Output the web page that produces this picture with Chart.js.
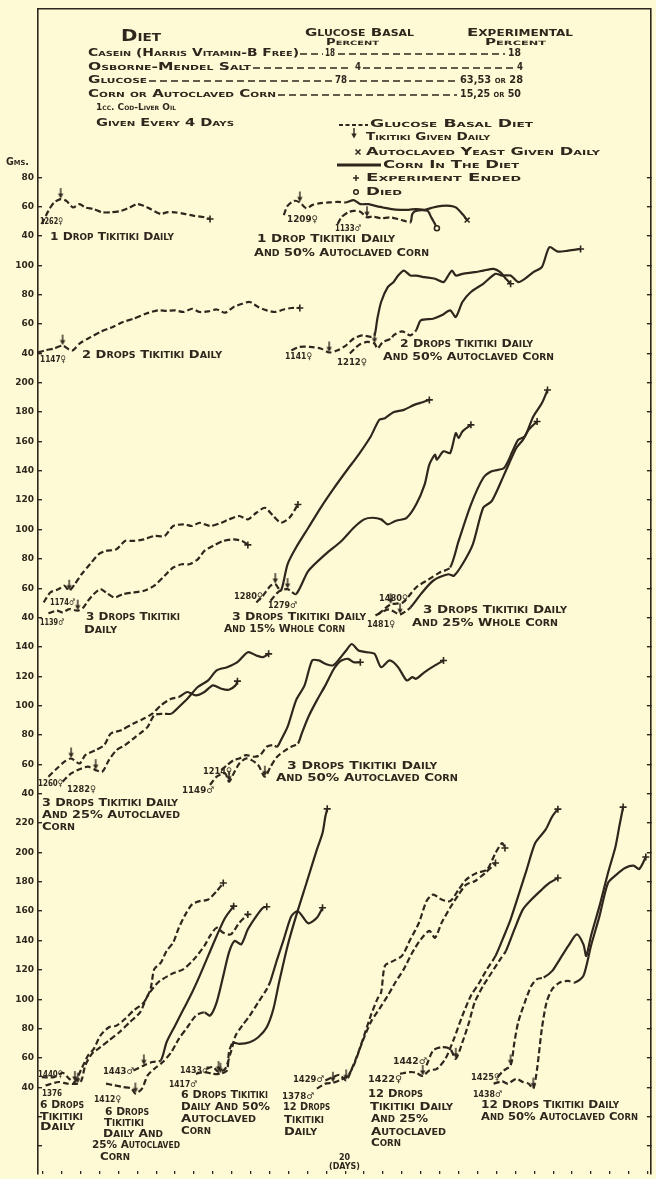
<!DOCTYPE html>
<html>
<head>
<meta charset="utf-8">
<title>Growth of rats on glucose basal diet with tikitiki and corn</title>
<script src="https://cdn.jsdelivr.net/npm/chart.js@4.4.1/dist/chart.umd.min.js"></script>
<style>
  html, body { margin: 0; padding: 0; background: #fcfbd6; }
  canvas { display: block; }
</style>
</head>
<body>
<canvas id="growth" width="656" height="1179" style="width:656px;height:1179px"></canvas>
<script>
const INK = '#30261d';
const PAPER = '#fcfbd6';
const FACE = '"DejaVu Sans", "Noto Sans", sans-serif';

// Weight tick labels of each panel, top panel first (grams)
const panelTicks = [
  [80, 60, 40],
  [100, 80, 60, 40],
  [200, 180, 160, 140, 120, 100, 80, 60, 40],
  [140, 120, 100, 80, 60, 40],
  [220, 200, 180, 160, 140, 120, 100, 80, 60, 40]
];
const tickStep = 20;
const blankTicksBelow = 2;
const weightSpan = [-599.0, 194.6];   // shared vertical extent, in panel-1 grams
const daySpan = [-0.5, 64.34];
const dayTickStep = 2;

// Body weight records: [day, grams]
const rat1262 = [[-0.1,48.1],[0.6,57.1],[1.2,62.8],[1.9,65.1],[2.5,63.9],[3.2,59.4],[3.9,61.7],[4.5,59.4],[5.4,58.3],[6.3,56.1],[7.2,56.1],[8.3,57.1],[9.2,59.4],[10.0,61.7],[10.7,60.5],[11.4,58.3],[12.5,54.9],[13.1,56.1],[14.0,56.1],[15.1,54.9],[16.0,53.7],[17.1,52.7],[17.7,51.5]];
const rat1209 = [[25.5,54.2],[25.9,60.5],[26.6,63.9],[27.2,62.8],[27.9,58.8],[28.5,61.0],[29.4,62.4],[30.3,62.8],[31.2,63.2],[32.1,62.8],[32.9,64.4],[33.6,61.7],[34.5,61.7],[35.3,60.3],[36.0,59.4],[36.9,58.3],[37.8,57.8],[38.7,57.8],[39.5,58.3],[40.4,57.8],[41.3,59.4],[42.2,60.5],[43.1,60.5],[43.7,59.4],[44.4,54.9],[44.9,50.8]];
const rat1133 = [[31.2,48.1],[31.6,52.7],[32.3,56.1],[32.9,57.1],[33.6,56.5],[34.3,52.7],[34.9,53.3],[35.8,52.0],[36.7,52.7],[37.6,51.5],[38.2,50.4],[38.9,49.3],[39.1,54.9],[39.5,57.1],[40.7,57.1],[41.1,52.7],[41.5,48.1],[41.7,45.2]];

const rat1147 = [[-0.5,40.6],[0.3,42.1],[1.2,43.3],[2.1,45.3],[2.8,42.6],[3.2,42.1],[3.9,46.7],[4.8,50.1],[6.1,54.6],[7.4,58.0],[8.5,61.4],[9.6,63.6],[10.9,67.0],[12.2,69.3],[13.1,68.9],[14.0,69.3],[14.9,68.2],[15.8,70.4],[16.6,68.2],[17.5,68.6],[18.4,69.9],[19.3,67.7],[20.2,71.6],[21.1,73.8],[21.9,75.0],[22.8,71.6],[23.7,69.3],[24.6,68.2],[25.5,69.9],[26.3,70.9],[27.2,70.9]];
const rat1141 = [[26.3,42.1],[27.2,44.4],[28.3,44.4],[29.4,43.3],[30.3,40.6],[31.2,42.1],[32.1,45.5],[32.9,50.1],[33.8,52.3],[34.7,51.2],[35.1,52.1],[35.4,63.6],[35.8,75.0],[36.5,85.1],[37.1,88.5],[37.6,93.0],[38.2,96.4],[38.9,93.0],[39.5,93.0],[40.4,91.9],[41.5,90.8],[42.4,88.5],[42.9,93.0],[43.3,96.4],[43.7,93.0],[44.4,94.2],[45.7,95.3],[46.6,96.4],[47.7,97.6],[48.4,95.3],[49.0,90.8],[49.5,87.4]];
const rat1212 = [[32.5,39.9],[33.4,45.5],[34.3,47.8],[35.1,46.7],[35.4,43.3],[36.0,47.8],[36.9,50.1],[37.1,52.3],[38.0,55.0],[38.9,52.3],[39.5,55.7],[40.0,62.5],[41.3,63.6],[42.2,65.9],[43.1,69.3],[43.7,64.8],[44.4,75.0],[45.3,81.8],[46.6,87.4],[47.9,94.2],[48.6,93.0],[49.5,93.0],[50.3,88.5],[51.0,90.8],[51.9,95.3],[52.8,98.7],[53.6,112.3],[54.5,109.3],[55.6,110.0],[56.9,111.1]];

const rat1174 = [[0.1,50.3],[0.8,57.1],[1.7,59.4],[2.3,61.7],[2.8,58.3],[3.4,62.8],[4.1,69.5],[5.0,76.3],[5.9,83.1],[6.7,85.4],[7.8,86.5],[8.7,92.2],[9.6,92.2],[10.7,93.3],[11.8,95.6],[12.9,95.6],[13.8,102.4],[14.9,103.5],[15.8,102.4],[16.6,104.6],[17.7,102.4],[18.9,104.6],[19.7,106.9],[20.8,109.2],[21.7,106.9],[22.6,111.4],[23.5,114.8],[24.4,109.2],[25.2,104.6],[26.1,108.0],[27.0,117.0]];
const rat1139 = [[0.6,42.9],[1.5,44.7],[2.1,43.6],[2.8,45.8],[3.7,44.7],[4.3,46.9],[4.8,51.5],[5.4,56.0],[6.1,59.4],[6.7,57.1],[7.6,53.7],[8.5,56.0],[9.6,57.1],[10.7,58.3],[11.8,61.7],[12.9,68.5],[13.8,74.1],[14.7,76.3],[15.5,76.3],[16.4,79.7],[17.1,85.4],[18.0,88.8],[19.1,92.2],[20.2,93.3],[21.1,92.2],[21.7,89.5]];
const rat1280 = [[22.6,50.3],[23.3,54.9],[24.1,61.7],[24.6,62.8],[25.2,58.3],[25.9,76.3],[26.8,87.7],[28.1,101.2],[29.4,114.8],[30.7,127.2],[32.1,139.7],[33.4,150.9],[34.7,163.4],[35.6,174.7],[36.2,175.8],[37.1,179.9],[38.2,181.5],[39.3,184.9],[40.2,186.7],[40.9,188.3]];
const rat1279 = [[24.1,51.5],[25.0,57.8],[25.9,59.4],[26.8,56.0],[28.1,71.8],[29.9,83.1],[31.6,92.2],[32.9,101.2],[34.0,106.9],[34.9,108.0],[35.8,106.9],[36.5,103.5],[37.3,105.8],[38.5,108.0],[39.5,117.0],[40.4,130.6],[40.9,144.2],[41.5,150.9],[41.7,147.6],[42.4,153.3],[43.1,152.1],[43.7,165.7],[44.0,162.3],[44.4,166.8],[45.3,171.3]];
const rat1480 = [[35.5,42.2],[36.8,49.0],[38.1,50.3],[39.5,60.5],[40.8,65.9],[42.0,70.7],[43.1,74.1],[44.0,92.2],[45.3,117.0],[46.6,135.1],[47.5,139.7],[48.8,141.9],[49.7,153.3],[50.3,161.1],[51.0,163.4],[51.9,177.0],[52.8,186.0],[53.4,195.0]];
const rat1481 = [[35.2,41.5],[36.6,45.6],[37.8,42.2],[38.9,46.9],[40.0,56.0],[41.3,65.1],[42.9,69.5],[43.5,68.5],[44.4,76.3],[45.5,89.9],[46.6,114.8],[47.5,119.3],[48.8,137.2],[50.1,155.5],[50.8,161.1],[51.4,167.9],[52.3,173.6]];

const rat1260 = [[0.6,51.6],[1.5,57.2],[2.3,61.8],[3.0,64.0],[3.9,60.6],[4.5,66.3],[5.6,69.7],[6.5,73.1],[7.2,81.0],[8.3,83.3],[9.6,87.8],[10.7,91.2],[11.6,94.5],[12.5,100.2],[13.6,104.7],[14.4,105.9],[15.3,109.3],[16.2,107.0],[17.1,109.3],[18.0,113.8],[18.9,111.5],[19.7,110.8],[20.4,113.8],[20.6,116.7]];
const rat1282 = [[2.1,48.2],[3.0,53.8],[4.1,57.2],[4.8,58.4],[5.6,56.1],[6.3,55.0],[7.0,62.9],[7.8,69.7],[8.7,73.1],[9.6,77.6],[10.5,82.1],[11.1,85.5],[11.8,93.5],[12.7,94.5],[13.6,94.5],[14.4,99.1],[15.3,104.7],[16.4,112.7],[17.5,117.2],[18.4,124.0],[19.5,126.2],[20.6,129.6],[21.7,136.4],[22.6,134.2],[23.3,133.0],[23.9,135.3]];
const rat1214 = [[18.9,56.1],[19.5,59.5],[20.2,62.9],[20.8,64.0],[21.5,66.3],[22.4,65.2],[23.0,66.3],[23.7,72.0],[24.4,73.1],[24.8,72.0],[25.2,76.5],[25.9,85.5],[26.8,103.6],[27.7,113.8],[28.5,130.8],[29.2,130.8],[29.9,128.5],[30.7,127.4],[31.4,131.9],[32.1,137.6],[32.7,142.0],[33.4,137.6],[34.3,136.4],[35.1,135.3],[35.8,126.2],[36.7,130.8],[37.6,126.2],[38.5,117.2],[39.1,119.4],[39.5,118.3],[40.4,122.8],[41.5,127.4],[42.4,130.8]];
const rat1149 = [[17.7,46.0],[18.4,51.6],[19.3,53.8],[19.7,48.2],[20.2,53.8],[20.8,60.6],[21.5,64.0],[22.1,62.9],[22.8,59.5],[23.5,51.6],[24.1,58.4],[24.8,65.2],[25.7,69.7],[26.3,72.0],[27.0,74.2],[27.4,81.0],[28.1,92.3],[29.0,103.6],[29.9,113.8],[30.7,124.0],[31.2,128.5],[31.6,130.8],[32.3,131.9],[32.9,129.6],[33.6,129.6]];

const rat1440 = [[-0.1,46.9],[1.2,46.9],[2.1,49.9],[2.8,45.8],[3.4,43.6],[4.1,52.6],[4.8,61.7],[5.4,66.2],[6.1,75.2],[7.0,80.9],[7.8,82.0],[8.7,86.5],[9.6,92.2],[10.7,97.9],[11.4,106.9],[11.8,120.5],[12.5,125.0],[13.1,132.9],[13.8,138.6],[14.4,148.7],[15.1,157.8],[15.8,164.6],[16.6,166.8],[17.5,167.9],[18.4,173.6],[19.1,179.2]];
const rat1376 = [[0.3,41.3],[1.7,43.6],[2.6,42.5],[3.7,42.5],[4.1,44.7],[4.5,54.9],[5.2,62.8],[6.1,67.3],[7.0,71.9],[8.1,77.5],[9.2,84.3],[10.3,91.1],[11.1,102.4],[12.2,111.4],[13.6,117.1],[14.9,120.5],[16.0,127.2],[17.1,136.3],[17.7,143.1],[18.4,148.7],[19.1,145.3],[19.9,144.2],[20.8,152.1],[21.7,157.8]];
const rat1443 = [[9.6,51.5],[10.7,54.9],[11.6,57.2],[12.5,58.3],[13.1,70.7],[14.0,82.0],[14.9,93.3],[15.8,104.6],[16.6,115.9],[17.5,129.5],[18.4,143.1],[19.3,155.5],[20.2,163.4]];
const rat1412 = [[6.7,42.5],[7.6,41.3],[8.5,40.2],[9.4,39.1],[9.8,35.7],[10.5,39.1],[11.1,48.1],[11.8,52.6],[12.7,57.2],[13.6,63.9],[14.4,73.0],[15.3,80.9],[16.2,88.8],[17.1,91.1],[17.7,88.8],[18.4,97.9],[19.1,115.9],[19.7,131.8],[20.3,139.7],[21.0,137.4],[21.7,147.6],[22.6,156.6],[23.3,162.3],[23.7,163.0]];
const rat1433 = [[17.3,52.6],[18.0,53.8],[18.6,50.4],[19.3,52.6],[19.9,63.9],[20.4,75.2],[21.1,82.0],[21.9,88.8],[22.8,97.9],[23.7,106.9],[24.1,112.5],[24.8,127.2],[25.5,140.8],[26.3,156.6],[27.0,160.0],[28.1,151.7],[29.0,155.5],[29.6,162.3]];
const rat1417 = [[16.2,49.2],[17.1,50.4],[18.0,49.2],[18.8,49.2],[19.5,51.5],[19.7,63.9],[20.1,70.3],[20.8,69.6],[21.9,70.7],[22.8,74.1],[23.7,80.9],[24.4,93.3],[25.0,111.4],[25.9,136.3],[26.8,156.6],[27.9,179.2],[29.0,201.9],[29.6,213.2],[29.9,224.5],[30.1,229.7]];
const rat1429 = [[29.9,44.7],[30.7,47.0],[31.4,48.5],[32.1,44.7],[32.7,52.6],[33.4,63.9],[34.0,75.2],[34.7,88.8],[35.4,100.1],[35.8,104.6],[36.2,122.7],[37.1,126.1],[38.0,129.5],[38.9,140.8],[39.8,152.1],[40.6,166.8],[41.3,171.3],[42.2,167.9],[43.1,166.8],[44.0,174.7],[44.8,181.5],[45.9,186.0],[47.0,188.3],[47.9,199.6],[48.6,206.4],[48.9,203.0]];
const rat1378 = [[29.0,39.1],[29.9,42.5],[30.7,43.1],[31.4,44.7],[32.3,48.1],[32.9,54.9],[33.8,70.7],[34.7,84.3],[35.6,93.3],[36.5,102.4],[37.3,111.4],[38.2,120.5],[39.1,131.8],[40.0,140.8],[40.9,146.5],[41.5,141.9],[42.2,152.1],[43.1,162.3],[44.0,171.3],[44.8,178.1],[45.7,180.4],[46.8,186.0],[47.9,192.8]];
const rat1422 = [[37.8,49.2],[38.9,50.4],[39.5,49.9],[40.2,47.7],[40.9,51.5],[41.7,52.6],[42.6,59.4],[43.5,73.0],[44.4,88.8],[45.3,102.4],[46.2,111.4],[47.0,120.5],[47.9,129.5],[48.8,143.1],[49.5,154.4],[50.3,170.2],[51.2,188.3],[52.1,206.4],[53.2,215.5],[53.9,224.5],[54.5,229.5]];
const rat1442 = [[40.6,54.9],[41.3,65.1],[42.2,67.3],[43.1,66.2],[43.7,59.4],[44.4,70.7],[45.1,84.3],[45.7,97.9],[46.6,109.2],[47.5,118.2],[48.4,127.2],[49.0,132.9],[49.9,147.6],[50.8,161.2],[51.7,167.9],[52.8,174.7],[53.6,179.2],[54.5,182.6]];
const rat1425 = [[48.1,47.0],[48.8,51.5],[49.5,54.9],[49.9,70.7],[50.3,84.3],[51.0,97.9],[51.7,109.2],[52.3,113.7],[53.0,114.8],[53.9,119.3],[54.7,127.2],[55.6,136.3],[56.5,144.2],[57.2,137.4],[57.5,129.5],[58.0,143.1],[58.9,163.4],[59.8,186.0],[60.6,204.1],[61.0,217.8],[61.4,230.9]];
const rat1438 = [[47.7,42.5],[48.6,44.0],[49.2,42.5],[50.1,45.8],[50.8,43.6],[51.4,42.5],[51.9,39.1],[52.3,52.6],[52.8,79.8],[53.3,97.9],[53.9,106.9],[54.7,111.4],[55.6,112.5],[56.3,111.4],[57.2,115.9],[58.0,136.3],[58.9,156.6],[59.8,179.2],[60.7,184.9],[61.6,189.4],[62.5,191.0],[63.1,188.7],[63.8,196.9]];

// panel (0 = top), index where corn enters the diet, tikitiki arrows, how the record ends
const rats = [
  { pts: rat1262, panel: 0, corn: null, arrows: [3], end: '+' },
  { pts: rat1209, panel: 0, corn: 9,    arrows: [3], end: 'x' },
  { pts: rat1133, panel: 0, corn: 11,   arrows: [5], end: 'o' },
  { pts: rat1147, panel: 1, corn: null, arrows: [3], end: '+' },
  { pts: rat1141, panel: 1, corn: 10,   arrows: [4], end: '+' },
  { pts: rat1212, panel: 1, corn: 10,   arrows: [3], end: '+' },
  { pts: rat1174, panel: 2, corn: null, arrows: [4], end: '+' },
  { pts: rat1139, panel: 2, corn: null, arrows: [4], end: '+' },
  { pts: rat1280, panel: 2, corn: 4,    arrows: [3], end: '+' },
  { pts: rat1279, panel: 2, corn: 3,    arrows: [2], end: '+' },
  { pts: rat1480, panel: 2, corn: 6,    arrows: [1], end: '+' },
  { pts: rat1481, panel: 2, corn: 3,    arrows: [2], end: '+' },
  { pts: rat1260, panel: 3, corn: 15,   arrows: [3], end: '+' },
  { pts: rat1282, panel: 3, corn: 14,   arrows: [4], end: '+' },
  { pts: rat1214, panel: 3, corn: 9,    arrows: [], end: '+' },
  { pts: rat1149, panel: 3, corn: 14,   arrows: [3, 9], end: '+' },
  { pts: rat1440, panel: 4, corn: null, arrows: [4], end: '+' },
  { pts: rat1376, panel: 4, corn: null, arrows: [3], end: '+' },
  { pts: rat1443, panel: 4, corn: 3,    arrows: [1], end: '+' },
  { pts: rat1412, panel: 4, corn: 13,   arrows: [4], end: '+' },
  { pts: rat1433, panel: 4, corn: 10,   arrows: [2], end: '+' },
  { pts: rat1417, panel: 4, corn: 6,    arrows: [3], end: '+' },
  { pts: rat1429, panel: 4, corn: null, arrows: [3], end: '+' },
  { pts: rat1378, panel: 4, corn: null, arrows: [2], end: '+' },
  { pts: rat1422, panel: 4, corn: 12,   arrows: [3], end: '+' },
  { pts: rat1442, panel: 4, corn: 11,   arrows: [4], end: '+' },
  { pts: rat1425, panel: 4, corn: 8,    arrows: [2], end: '+' },
  { pts: rat1438, panel: 4, corn: 13,   arrows: [6], end: '+' }
];

// Lettering: [text, left x, middle y, width, size]
const notes = [
  ['Diet', 121, 37, 40, 16],
  ['Glucose Basal', 305, 33, 109, 11],
  ['Percent', 326, 43, 53, 8],
  ['Experimental', 467, 33, 106, 11],
  ['Percent', 485, 43, 61, 8],
  ['Casein (Harris Vitamin-B Free)', 88, 53, 211, 10],
  ['18', 325, 53, 10, 10],
  ['18', 508, 53, 13, 10],
  ['Osborne-Mendel Salt', 88, 67, 163, 10],
  ['4', 355, 67, 6, 10],
  ['4', 517, 67, 6, 10],
  ['Glucose', 88, 80, 59, 10],
  ['78', 335, 80, 12, 10],
  ['63,53 or 28', 460, 80, 63, 10],
  ['Corn or Autoclaved Corn', 88, 94, 188, 10],
  ['15,25 or 50', 460, 94, 61, 10],
  ['1cc. Cod-Liver Oil', 96, 108, 80, 9],
  ['Given Every 4 Days', 96, 123, 138, 10],
  ['Glucose Basal Diet', 370, 124, 163, 10],
  ['Tikitiki Given Daily', 366, 137, 124, 10],
  ['Autoclaved Yeast Given Daily', 366, 152, 234, 10],
  ['Corn In The Diet', 383, 165, 136, 10],
  ['Experiment Ended', 366, 178, 155, 10],
  ['Died', 366, 192, 36, 10],
  ['Gms.', 6, 162, 23, 10],

  ['1262♀', 40, 222, 23, 9],
  ['1 Drop Tikitiki Daily', 50, 237, 124, 11],
  ['1209♀', 287, 220, 31, 9],
  ['1133♂', 335, 229, 26, 9],
  ['1 Drop Tikitiki Daily', 257, 239, 138, 11],
  ['And 50% Autoclaved Corn', 254, 253, 175, 11],

  ['1147♀', 40, 360, 26, 9],
  ['2 Drops Tikitiki Daily', 82, 355, 140, 11],
  ['1141♀', 285, 357, 27, 9],
  ['1212♀', 337, 363, 30, 9],
  ['2 Drops Tikitiki Daily', 400, 344, 133, 11],
  ['And 50% Autoclaved Corn', 383, 357, 171, 11],

  ['1174♂', 50, 603, 25, 9],
  ['1139♂', 40, 623, 24, 9],
  ['3 Drops Tikitiki', 86, 617, 94, 11],
  ['Daily', 84, 630, 33, 11],
  ['1280♀', 234, 597, 29, 9],
  ['1279♂', 268, 606, 29, 9],
  ['3 Drops Tikitiki Daily', 232, 617, 134, 11],
  ['And 15% Whole Corn', 224, 629, 121, 11],
  ['1480♀', 379, 599, 29, 9],
  ['1481♀', 367, 625, 28, 9],
  ['3 Drops Tikitiki Daily', 423, 610, 144, 11],
  ['And 25% Whole Corn', 412, 623, 146, 11],

  ['1260♀', 38, 784, 25, 9],
  ['1282♀', 67, 790, 29, 9],
  ['3 Drops Tikitiki Daily', 42, 803, 136, 11],
  ['And 25% Autoclaved', 42, 815, 138, 11],
  ['Corn', 42, 827, 33, 11],
  ['1214♀', 203, 772, 29, 9],
  ['1149♂', 182, 791, 32, 9],
  ['3 Drops Tikitiki Daily', 287, 766, 150, 11],
  ['And 50% Autoclaved Corn', 276, 778, 182, 11],

  ['1440♀', 38, 1075, 25, 9],
  ['1376', 42, 1094, 20, 9],
  ['6 Drops', 40, 1105, 44, 11],
  ['Tikitiki', 40, 1117, 43, 11],
  ['Daily', 40, 1127, 35, 11],
  ['1443♂', 103, 1072, 31, 9],
  ['1412♀', 94, 1100, 27, 9],
  ['6 Drops', 105, 1112, 44, 11],
  ['Tikitiki', 104, 1123, 40, 11],
  ['Daily And', 103, 1134, 60, 11],
  ['25% Autoclaved', 92, 1145, 88, 11],
  ['Corn', 100, 1157, 30, 11],
  ['1433♂', 180, 1071, 29, 9],
  ['1417♂', 169, 1085, 28, 9],
  ['6 Drops Tikitiki', 181, 1095, 87, 11],
  ['Daily And 50%', 181, 1107, 89, 11],
  ['Autoclaved', 181, 1119, 75, 11],
  ['Corn', 181, 1131, 30, 11],
  ['1429♂', 293, 1080, 31, 9],
  ['1378♂', 282, 1097, 32, 9],
  ['12 Drops', 283, 1107, 47, 11],
  ['Tikitiki', 284, 1120, 40, 11],
  ['Daily', 284, 1132, 33, 11],
  ['1422♀', 368, 1080, 34, 9],
  ['1442♂', 393, 1062, 34, 9],
  ['12 Drops', 368, 1094, 55, 11],
  ['Tikitiki Daily', 370, 1107, 83, 11],
  ['And 25%', 371, 1119, 57, 11],
  ['Autoclaved', 371, 1132, 75, 11],
  ['Corn', 371, 1143, 30, 11],
  ['1425♀', 471, 1078, 29, 9],
  ['1438♂', 473, 1095, 29, 9],
  ['12 Drops Tikitiki Daily', 481, 1105, 138, 11],
  ['And 50% Autoclaved Corn', 481, 1117, 157, 11]
];

// dash leaders in the diet table: [from x, to x, y]
const leaders = [
  [300, 323, 54], [338, 505, 54],
  [253, 352, 68], [363, 514, 68],
  [149, 332, 81], [349, 457, 81],
  [278, 457, 95]
];

// ---- scale bookkeeping: each panel is a shifted copy of the shared vertical extent
const panelOffsets = [];
(function () {
  let next = panelTicks[0][0];
  panelTicks.forEach(t => { panelOffsets.push(t[0] - next); next -= tickStep * t.length; });
})();
const tickText = new Map();
panelTicks.forEach((t, i) => t.forEach(v => tickText.set(v - panelOffsets[i], String(v))));
const sharedTicks = [];
{
  const lastPanel = panelTicks.length - 1;
  const bottom = panelTicks[lastPanel][panelTicks[lastPanel].length - 1] - panelOffsets[lastPanel] - tickStep * blankTicksBelow;
  for (let v = bottom; v <= panelTicks[0][0]; v += tickStep) sharedTicks.push({ value: v });
}
const dayTicks = [];
for (let d = 0; d <= daySpan[1]; d += dayTickStep) dayTicks.push({ value: d });

// tikitiki arrow, tip at the image centre
const arrowMark = (function () {
  const c = document.createElement('canvas');
  c.width = 8; c.height = 24;
  const g = c.getContext('2d');
  g.strokeStyle = INK; g.fillStyle = INK; g.lineWidth = 1.4;
  g.beginPath(); g.moveTo(4, 1); g.lineTo(4, 8); g.stroke();
  g.beginPath(); g.moveTo(1.3, 6.5); g.lineTo(6.7, 6.5); g.lineTo(4, 11.5); g.closePath(); g.fill();
  return c;
})();
const endMarks = { '+': ['cross', 3.5], 'x': ['crossRot', 3.5], 'o': ['circle', 2.5] };

const datasets = rats.map(r => {
  const last = r.pts.length - 1;
  const isArrow = i => i !== last && r.arrows.includes(i);
  return {
    data: r.pts.map(([x, y]) => ({ x, y })),
    xAxisID: 'x',
    yAxisID: 'p' + (r.panel + 1),
    borderColor: INK,
    borderWidth: 2.2,
    tension: 0.25,
    fill: false,
    segment: {
      borderDash: c => (r.corn === null || c.p0DataIndex < r.corn) ? [6, 3] : []
    },
    pointStyle: c => isArrow(c.dataIndex) ? arrowMark : endMarks[r.end][0],
    pointRadius: c => isArrow(c.dataIndex) ? 4 : (c.dataIndex === last ? endMarks[r.end][1] : 0),
    pointBorderColor: INK,
    pointBackgroundColor: PAPER,
    pointBorderWidth: 1.6,
    pointHoverRadius: 0
  };
});

const panelScales = {};
panelOffsets.forEach((off, i) => {
  panelScales['p' + (i + 1)] = {
    type: 'linear', display: false,
    min: weightSpan[0] + off, max: weightSpan[1] + off
  };
});

function letter(ctx, text, x, y, w, size) {
  ctx.font = 'small-caps bold ' + size + 'px ' + FACE;
  const m = ctx.measureText(text).width;
  ctx.save();
  ctx.translate(x, y);
  ctx.scale(w / m, 1);
  ctx.fillText(text, 0, 0);
  ctx.restore();
}

const lettering = {
  id: 'lettering',
  afterDraw(chart) {
    const ctx = chart.ctx;
    ctx.save();
    ctx.fillStyle = INK;
    ctx.strokeStyle = INK;
    ctx.textBaseline = 'middle';
    ctx.textAlign = 'left';
    notes.forEach(n => letter(ctx, ...n));

    ctx.lineWidth = 1.5;
    ctx.setLineDash([7, 4]);
    leaders.forEach(([a, b, y]) => { ctx.beginPath(); ctx.moveTo(a, y); ctx.lineTo(b, y); ctx.stroke(); });

    // key samples
    ctx.lineWidth = 2.2;
    ctx.setLineDash([4, 2.5]);
    ctx.beginPath(); ctx.moveTo(339, 125); ctx.lineTo(368, 125); ctx.stroke();
    ctx.setLineDash([]);
    ctx.lineWidth = 2.8;
    ctx.beginPath(); ctx.moveTo(337, 165); ctx.lineTo(381, 165); ctx.stroke();
    ctx.drawImage(arrowMark, 350, 139 - 12);
    ctx.lineWidth = 1.5;
    ctx.beginPath();
    ctx.moveTo(355.5, 149.5); ctx.lineTo(360.5, 154.5);
    ctx.moveTo(360.5, 149.5); ctx.lineTo(355.5, 154.5);
    ctx.moveTo(356, 175); ctx.lineTo(356, 181);
    ctx.moveTo(353, 178); ctx.lineTo(359, 178);
    ctx.stroke();
    ctx.beginPath(); ctx.arc(356, 192, 2.3, 0, Math.PI * 2); ctx.stroke();
    ctx.restore();
  }
};

new Chart(document.getElementById('growth'), {
  type: 'line',
  data: { datasets },
  options: {
    responsive: false,
    animation: false,
    devicePixelRatio: 1,
    events: [],
    layout: { padding: { top: 9, left: 0, right: 0, bottom: 0 } },
    plugins: { legend: { display: false }, tooltip: { enabled: false } },
    scales: {
      x: {
        type: 'linear', position: 'bottom', min: daySpan[0], max: daySpan[1],
        border: { display: false },
        grid: { drawOnChartArea: false, tickLength: -3, color: INK, lineWidth: 1.3 },
        ticks: { display: false },
        afterBuildTicks: s => { s.ticks = dayTicks.map(t => ({ value: t.value })); },
        afterFit: s => { s.height = 0; },
        title: {
          display: true, text: ['20', '(DAYS)'], color: INK,
          font: { family: FACE, size: 8, weight: 'bold', lineHeight: 1.1 },
          padding: { top: 0, bottom: 3 }
        }
      },
      xTop: {
        type: 'linear', position: 'top', min: daySpan[0], max: daySpan[1],
        grid: { display: false, drawTicks: false },
        border: { display: true, color: INK, width: 1.5 },
        ticks: { display: false },
        afterFit: s => { s.height = 0; }
      },
      y: {
        type: 'linear', position: 'left', min: weightSpan[0], max: weightSpan[1],
        border: { display: true, color: INK, width: 1.6 },
        grid: { drawOnChartArea: false, tickLength: -4, color: INK, lineWidth: 1.4 },
        ticks: {
          autoSkip: false, padding: 8, color: INK,
          font: { family: FACE, size: 9, weight: 'bold' },
          callback: v => tickText.get(v) || ''
        },
        afterBuildTicks: s => { s.ticks = sharedTicks.map(t => ({ value: t.value })); },
        afterFit: s => { s.width = 38; s.paddingTop = 0; s.paddingBottom = 0; }
      },
      yR: {
        type: 'linear', position: 'right', min: weightSpan[0], max: weightSpan[1],
        border: { display: true, color: INK, width: 1.6 },
        grid: { drawOnChartArea: false, tickLength: -4, color: INK, lineWidth: 1.4 },
        ticks: { display: false },
        afterBuildTicks: s => { s.ticks = sharedTicks.map(t => ({ value: t.value })); },
        afterFit: s => { s.width = 2; }
      },
      ...panelScales
    }
  },
  plugins: [lettering]
});
</script>
</body>
</html>
